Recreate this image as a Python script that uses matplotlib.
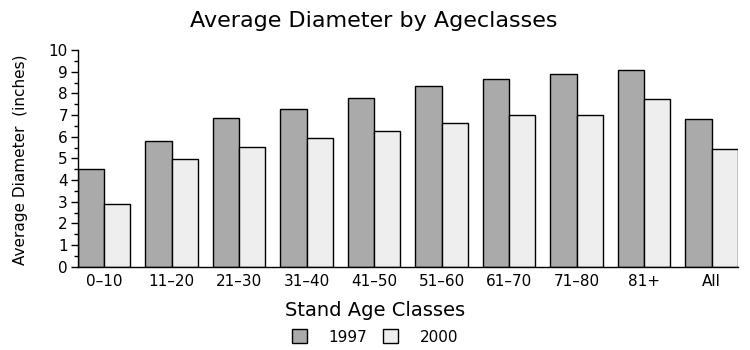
import numpy as np
import matplotlib
matplotlib.use('Agg')
import matplotlib.pyplot as plt
from matplotlib.ticker import MultipleLocator

# ── Data ──────────────────────────────────────────
classes = ['0\u201310', '11\u201320', '21\u201330', '31\u201340', '41\u201350',
           '51\u201360', '61\u201370', '71\u201380', '81+', 'All']
d1997 = [4.49, 5.78, 6.85, 7.26, 7.77, 8.32, 8.65, 8.88, 9.06, 6.80]
d2000 = [2.88, 4.95, 5.51, 5.92, 6.25, 6.62, 6.98, 6.98, 7.72, 5.42]

plt.rcParams['font.family'] = ['DejaVu Sans']

# ── Plot ──────────────────────────────────────────
fig = plt.figure(figsize=(7.5, 3.5), dpi=100)
ax = fig.add_axes([0.1036, 0.238, 0.8804, 0.619])

x = np.arange(len(classes))
w = 0.39
ax.bar(x - w / 2, d1997, w, color='#aaaaaa', edgecolor='black', linewidth=1, label='1997')
ax.bar(x + w / 2, d2000, w, color='#eeeeee', edgecolor='black', linewidth=1, label='2000')

ax.set_xlim(-0.39, len(classes) - 1 + 0.39)
ax.set_ylim(0, 10)
ax.yaxis.set_major_locator(MultipleLocator(1))
ax.yaxis.set_minor_locator(MultipleLocator(0.5))
ax.tick_params(axis='y', which='major', length=5, width=1, labelsize=11, pad=2)
ax.tick_params(axis='y', which='minor', length=3, width=1)
ax.set_xticks(x)
ax.set_xticklabels(classes)
ax.tick_params(axis='x', length=0, labelsize=11, pad=5)

for s in ['top', 'right']:
    ax.spines[s].set_visible(False)
ax.spines['left'].set_linewidth(1)
ax.spines['bottom'].set_linewidth(1)

fig.text(0.498, 1 - 21 / 350, 'Average Diameter by Ageclasses', ha='center', va='center', fontsize=16)
fig.text(0.027, 1 - 160 / 350, 'Average Diameter  (inches)', ha='center', va='center',
         rotation=90, fontsize=11)
fig.text(0.5, 1 - 311 / 350, 'Stand Age Classes', ha='center', va='center', fontsize=14)

fig.legend(loc='center', bbox_to_anchor=(0.5, 1 - 337 / 350), ncol=2, frameon=False,
           fontsize=11, handlelength=1.0, handleheight=1.0, handletextpad=1.4,
           columnspacing=1.0)

fig.savefig('out.png', dpi=100)
